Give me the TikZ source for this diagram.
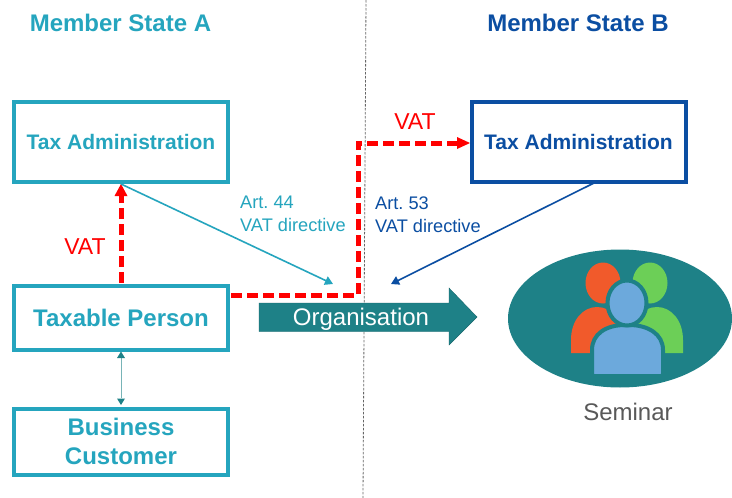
\documentclass[tikz,border=0pt]{standalone}
\usepackage{fontspec}
\setmainfont{Liberation Sans}
\usetikzlibrary{arrows.meta}
\definecolor{cyanA}{HTML}{25A5BE}
\definecolor{blueB}{HTML}{0B4EA2}
\definecolor{tealC}{HTML}{1E8187}
\definecolor{redV}{HTML}{FF0000}
\definecolor{orangeP}{HTML}{F15A2B}
\definecolor{greenP}{HTML}{6CCF57}
\definecolor{blueP}{HTML}{6CA9DC}
\tikzset{
  boxA/.style={draw=cyanA,line width=4pt,fill=white,minimum width=214pt,align=center,text=cyanA,font=\bfseries\fontsize{24}{29}\selectfont,inner sep=0pt},
  boxB/.style={boxA,draw=blueB,text=blueB},
  headA/.style={font=\bfseries\fontsize{24}{28}\selectfont,text=cyanA},
  headB/.style={headA,text=blueB},
  vatline/.style={draw=redV,line width=5pt,dash pattern=on 11pt off 5pt},
  vatlabel/.style={font=\fontsize{23}{27}\selectfont,text=redV},
  artA/.style={font=\frenchspacing\fontsize{18.2}{23}\selectfont,text=cyanA,align=left,inner sep=0pt,anchor=west},
  artB/.style={artA,text=blueB},
  thinA/.style={draw=cyanA,line width=1.6pt,-{Triangle[length=8pt,width=9pt]}},
  thinB/.style={draw=blueB,line width=1.6pt,-{Triangle[length=8pt,width=9pt]}},
  ringed/.style={draw=tealC,line width=4pt}
}
\begin{document}
\begin{tikzpicture}[x=1pt,y=-1pt]
\useasboundingbox (0,0) rectangle (732,498);
\fill[white] (0,0) rectangle (732,498);
% divider
\coordinate (divT) at (366,0);
\coordinate (divB) at (363,498);
\draw[gray!80!black,line width=0.8pt,dash pattern=on 2.5pt off 1.5pt] (divT) -- (divB);
% headers
\node[headA] (hA) at (120.5,23) {Member State A};
\node[headB] (hB) at (578,23) {Member State B};
% boxes
\node[boxA,minimum height=80pt] (taxA) at (121,141.5) {\fontsize{21}{25}\selectfont Tax Administration};
\node[boxB,minimum height=80pt] (taxB) at (578.5,141.5) {\fontsize{21}{25}\selectfont Tax Administration};
\node[boxA,minimum height=64pt] (tp) at (121,317.5) {Taxable Person};
\node[boxA,minimum height=66pt] (bc) at (121,441.5) {Business\\Customer};
% labels
\node[vatlabel] (v1) at (85,247) {VAT};
\node[vatlabel] (v2) at (415,122) {VAT};
\node[artA] (a44) at (240,214) {Art. 44\\VAT directive};
\node[artB] (a53) at (375,215) {Art. 53\\VAT directive};
% connectors
\coordinate (tpTop) at (121,283);
\coordinate (taxABot) at (121,184);
\coordinate (tpR) at (231,295);
\coordinate (c1) at (358,295);
\coordinate (c2) at (358,143);
\coordinate (taxBL) at (470,143);
\coordinate (endA) at (333,284);
\coordinate (taxBB) at (594,183);
\coordinate (endB) at (391,284);
\draw[vatline] (tpTop) -- (121,195);
\fill[redV] (taxABot) -- (127.5,196) -- (114.5,196) -- cycle;
\draw[vatline] (tpR) -- (c1) -- (c2) -- (460,143);
\fill[redV] (taxBL) -- (457,137) -- (457,149) -- cycle;
\draw[thinA] (taxABot) -- (endA);
\draw[thinB] (taxBB) -- (endB);
\draw[tealC!60!white,line width=0.8pt] (121,358) -- (121,398);
\fill[tealC] (121,351.5) -- (125,358) -- (117,358) -- cycle;
\fill[tealC] (121,405) -- (125,398.5) -- (117,398.5) -- cycle;
% big arrow
\draw[fill=tealC,draw=tealC!80!black,line width=0.4pt] (259,303) -- (449,303) -- (449,288) -- (477,317) -- (449,345) -- (449,331.5) -- (259,331.5) -- cycle;
\node[font=\fontsize{24}{28}\selectfont,text=white] (org) at (361,319) {Organisation};
% seminar
\fill[tealC] (620,318.5) ellipse [x radius=112,y radius=69];
\fill[orangeP] (571,353) -- (571,340) .. controls (571,320) and (583,307) .. (597,307) .. controls (612,307) and (622,320) .. (622,340) -- (622,353) -- cycle;
\fill[orangeP] (603,283) ellipse [x radius=17.5,y radius=20.5];
\fill[greenP] (683,353) -- (683,340) .. controls (683,320) and (671,307) .. (657,307) .. controls (642,307) and (632,320) .. (632,340) -- (632,353) -- cycle;
\fill[greenP] (650,283) ellipse [x radius=17.5,y radius=20.5];
\filldraw[fill=blueP,ringed,rounded corners=2pt] (592,376) -- (592,352) .. controls (592,334) and (606,325) .. (627,325) .. controls (648,325) and (663,334) .. (663,352) -- (663,376) -- cycle;
\filldraw[fill=blueP,ringed] (627,303) ellipse [x radius=19.5,y radius=22.5];
\node[font=\fontsize{24}{28}\selectfont,text=black!65] (sem) at (628,412) {Seminar};
\end{tikzpicture}
\end{document}
